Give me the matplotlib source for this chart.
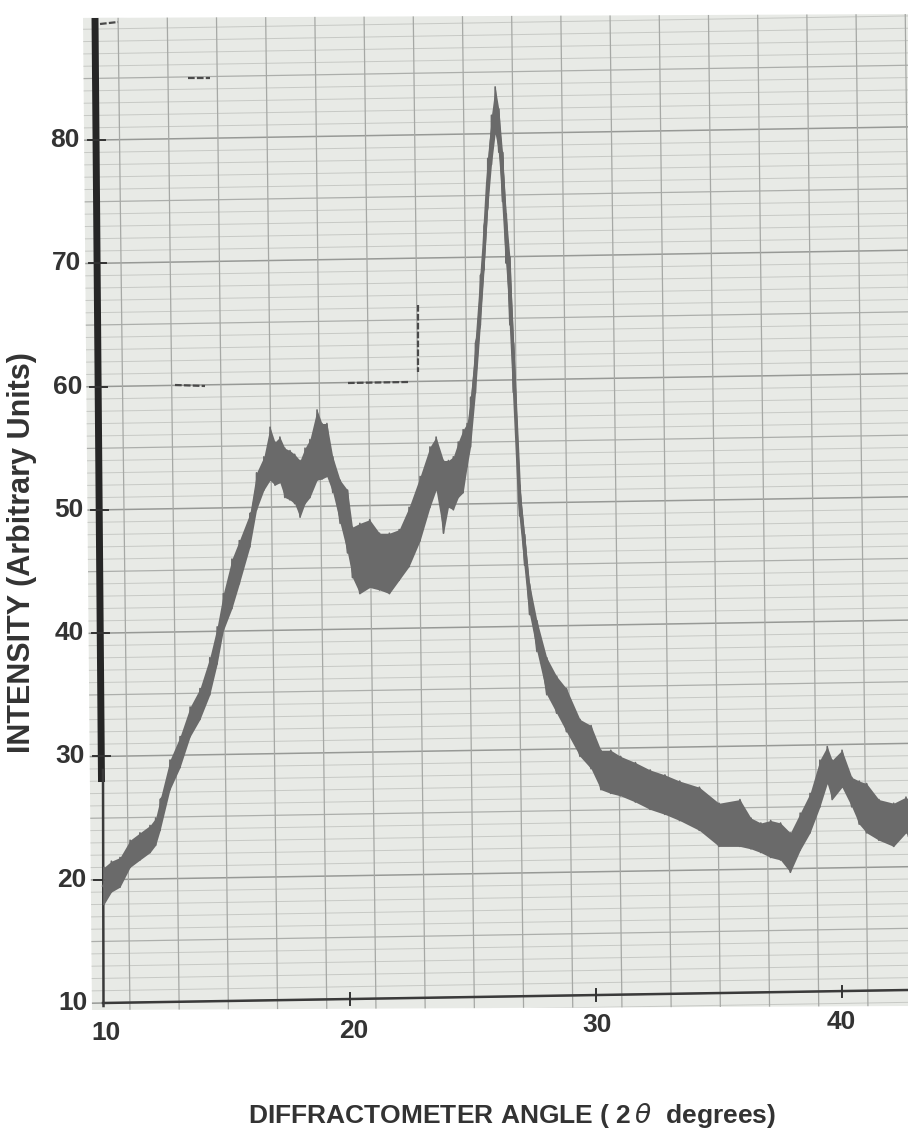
import numpy as np
import matplotlib
matplotlib.use("Agg")
import matplotlib.pyplot as plt
from matplotlib.patches import Polygon

# ---------------- data ----------------
two_theta = [10.0, 10.3, 10.65, 11.06, 11.46, 11.87, 12.1, 12.28, 12.68, 13.09,
             13.5, 13.9, 14.3, 14.6, 14.85, 15.2, 15.5, 15.93, 16.2, 16.5,
             16.75, 16.95, 17.15, 17.35, 17.56, 17.75, 17.97, 18.17, 18.37, 18.66,
             18.86, 19.06, 19.3, 19.6, 19.9, 20.1, 20.4, 20.8, 21.2, 21.6,
             22.0, 22.4, 22.85, 23.25, 23.5, 23.8, 24.0, 24.2, 24.4, 24.6,
             24.76, 24.9, 25.1, 25.3, 25.45, 25.6, 25.75, 25.9, 26.05, 26.2,
             26.35, 26.5, 26.65, 26.9, 27.1, 27.3, 27.6, 28.0, 28.4, 28.8,
             29.35, 29.8, 30.2, 30.6, 31.0, 31.6, 32.2, 32.8, 33.4, 34.2,
             35.0, 35.85, 36.3, 36.7, 37.1, 37.5, 37.9, 38.3, 38.7, 39.1,
             39.4, 39.6, 40.0, 40.4, 40.7, 41.0, 41.5, 42.1, 42.6, 42.7]
intensity_low = [18.0, 19.0, 19.4, 21.0, 21.6, 22.2, 22.8, 24.0, 27.3, 29.1,
                 31.6, 33.0, 35.0, 37.5, 40.2, 42.0, 44.0, 47.0, 50.0, 51.6,
                 52.4, 52.0, 52.2, 51.0, 50.8, 50.5, 49.4, 50.5, 51.0, 52.4,
                 52.5, 52.7, 51.4, 48.9, 46.5, 44.5, 43.2, 43.7, 43.5, 43.2,
                 44.3, 45.4, 47.5, 50.2, 51.6, 48.1, 50.2, 50.0, 51.0, 51.4,
                 53.5, 55.1, 59.5, 65.0, 69.5, 74.5, 78.0, 80.5, 79.0, 75.0,
                 70.0, 65.0, 59.5, 49.5, 45.5, 41.5, 38.5, 35.0, 33.5, 32.0,
                 30.0, 29.0, 27.3, 27.0, 26.8, 26.3, 25.7, 25.3, 24.8, 24.0,
                 22.7, 22.7, 22.5, 22.2, 21.8, 21.6, 20.6, 22.4, 23.8, 25.9,
                 27.8, 26.5, 27.5, 25.9, 24.5, 23.8, 23.2, 22.7, 23.8, 23.5]
intensity_high = [21.0, 21.5, 21.8, 23.2, 23.8, 24.4, 25.0, 26.5, 29.7, 31.6,
                  34.0, 35.5, 38.0, 40.5, 43.2, 46.0, 47.5, 49.7, 53.0, 54.3,
                  56.7, 55.5, 55.9, 55.0, 54.8, 54.5, 54.0, 55.0, 55.7, 58.1,
                  57.0, 57.0, 54.3, 52.4, 51.6, 48.6, 48.9, 49.2, 48.1, 48.1,
                  48.4, 50.2, 52.7, 55.1, 55.9, 54.0, 54.0, 54.3, 55.5, 56.5,
                  57.0, 59.1, 63.5, 69.0, 73.0, 78.5, 82.0, 84.3, 82.5, 79.0,
                  74.0, 70.5, 63.5, 52.0, 48.0, 44.0, 41.0, 38.0, 36.5, 35.5,
                  33.0, 32.5, 30.5, 30.5, 30.0, 29.5, 28.9, 28.5, 28.0, 27.5,
                  26.2, 26.5, 25.0, 24.6, 24.8, 24.6, 23.8, 25.4, 27.0, 29.7,
                  30.8, 29.7, 30.5, 28.3, 28.0, 27.8, 26.5, 26.2, 26.7, 26.5]

x_ticks = [10, 20, 30, 40]
y_ticks = [10, 20, 30, 40, 50, 60, 70, 80]
x_label = "DIFFRACTOMETER ANGLE ( 2$\\,\\theta$  degrees)"
y_label = "INTENSITY (Arbitrary Units)"

# ---------------- figure / coordinate helpers ----------------
W, H = 908, 1133
fig = plt.figure(figsize=(W / 100, H / 100), dpi=100)
fig.patch.set_facecolor("white")
ax = fig.add_axes([80 / W, (H - 1012) / H, 828 / W, 1002 / H])

PXX, X0PX, PXY, Y0PY = 24.6, 104.0, 12.33, 1003.0


def px2x(px):
    return 10 + (px - X0PX) / PXX


def py2y(py):
    return 10 + (Y0PY - py) / PXY


ax.set_xlim(px2x(80), px2x(908))
ax.set_ylim(py2y(1012), py2y(10))
ax.axis("off")

# chart paper
paper_px = [(83, 18), (908, 14), (908, 1006), (92, 1010)]
paper = Polygon([(px2x(a), py2y(b)) for a, b in paper_px], closed=True,
                facecolor="#e8eae6", edgecolor="none", zorder=0)
ax.add_patch(paper)

# horizontal paper lines (paper is slightly rotated)
slope = (13 / PXY) / (804 / PXX)
xl, xr = px2x(80), px2x(910)
for v in range(8, 92):
    if v % 10 == 0:
        c, lw = "#979996", 1.1
    elif v % 5 == 0:
        c, lw = "#acaeab", 0.9
    else:
        c, lw = "#c7c9c5", 0.7
    ln, = ax.plot([xl, xr], [v + slope * (xl - 10), v + slope * (xr - 10)],
                  color=c, lw=lw, zorder=1)
    ln.set_clip_path(paper)

# vertical paper lines
for k in range(-1, 18):
    xt = 118 + 49.2 * k
    ln, = ax.plot([px2x(xt), px2x(xt + 12)], [py2y(10), py2y(1012)],
                  color="#a6a8a5", lw=0.9, zorder=1)
    ln.set_clip_path(paper)

# axes drawn on the paper
ax.plot([px2x(95), px2x(101.5)], [py2y(18), py2y(782)], color="#262626",
        lw=5.0, solid_capstyle="butt", zorder=4)
ax.plot([px2x(103), px2x(103.5)], [py2y(770), py2y(1006)], color="#3a3a3a",
        lw=1.8, zorder=4)
ax.plot([px2x(103), px2x(908)], [py2y(1003), py2y(990)], color="#3a3a3a",
        lw=1.8, zorder=4)

# tick marks
for v in y_ticks[1:]:
    py = Y0PY - (v - 10) * PXY
    xc = 95 + (101.5 - 95) * (py - 18) / (782 - 18)
    ax.plot([px2x(xc - 8), px2x(xc + 9)], [v, v], color="#333333", lw=1.4, zorder=5)
for t in x_ticks[1:]:
    yb = 10 + slope * (t - 10)
    ax.plot([t, t], [yb - 0.45, yb + 0.45], color="#333333", lw=1.4, zorder=5)

# pen marks on the paper
marks = [([188, 210], [78, 78]), ([175, 205], [385, 386]),
         ([348, 408], [383, 382]), ([418, 418], [305, 372]),
         ([100, 118], [24, 22])]
for mx, my in marks:
    ax.plot([px2x(a) for a in mx], [py2y(b) for b in my], color="#4a4a4a",
            lw=1.6, ls=(0, (3, 1)), zorder=3)

# ---------------- the trace ----------------
x = np.array(two_theta)
lo = np.array(intensity_low)
hi = np.array(intensity_high)
trace_c = "#6a6a6a"
ax.fill_between(x, lo, hi, color=trace_c, lw=0, zorder=6)
ax.plot(x, (lo + hi) / 2, color=trace_c, lw=2.6, zorder=6)
ax.plot(np.repeat(x, 2), np.column_stack([lo, hi]).ravel(), color=trace_c,
        lw=1.2, zorder=6)

# ---------------- text ----------------
fkw = dict(family=["Liberation Sans", "DejaVu Sans"], fontweight="bold",
           color="#333333")
for v in y_ticks:
    xr_lab = 9.02 + (80 - v) / 70 * 0.30
    ax.text(xr_lab, v, str(v), ha="right", va="center", fontsize=19,
            clip_on=False, **fkw)
lab_py = {10: 1033, 20: 1031, 30: 1025, 40: 1022}
lab_px = {10: 106, 20: 354, 30: 597, 40: 841}
for t in x_ticks:
    ax.text(px2x(lab_px[t]), py2y(lab_py[t]), str(t), ha="center", va="center",
            fontsize=19, clip_on=False, **fkw)

fig.text(512 / W, 1 - 1115 / H, x_label, ha="center", va="center",
         fontsize=19, **fkw)
fig.text(22 / W, 1 - 553 / H, y_label, ha="center", va="center",
         rotation=90, fontsize=22, **fkw)

fig.savefig("out.png", dpi=100, facecolor="white")
